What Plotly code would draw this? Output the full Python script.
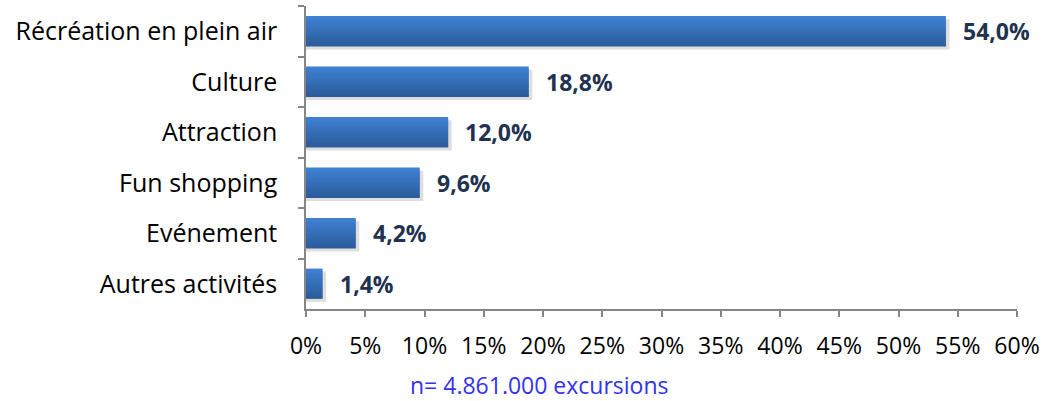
import plotly.graph_objects as go

categories = ["Récréation en plein air", "Culture", "Attraction", "Fun shopping", "Evénement", "Autres activités"]
values = [54.0, 18.8, 12.0, 9.6, 4.2, 1.4]
value_labels = ["54,0%", "18,8%", "12,0%", "9,6%", "4,2%", "1,4%"]
x_ticks = list(range(0, 61, 5))
note = "n= 4.861.000 excursions"

FONT = "Open Sans"
bar_w = 0.6
n_strips = 12
top_col = (62, 128, 210)
bot_col = (44, 92, 155)

fig = go.Figure()

# soft shadow
fig.add_trace(go.Bar(
    y=categories, x=[v + 0.3 for v in values], orientation="h",
    width=bar_w, offset=-bar_w / 2 + 0.06,
    marker=dict(color="rgba(0,0,0,0.13)", line=dict(width=0)),
    hoverinfo="skip", showlegend=False,
))

h = bar_w / n_strips
for i in range(n_strips):
    t = i / (n_strips - 1)
    c = tuple(int(round(top_col[k] + (bot_col[k] - top_col[k]) * t)) for k in range(3))
    w = h + 0.025 if i < n_strips - 1 else h
    fig.add_trace(go.Bar(
        y=categories, x=values, orientation="h",
        width=w, offset=-bar_w / 2 + i * h,
        marker=dict(color="rgb(%d,%d,%d)" % c, line=dict(width=0)),
        hoverinfo="skip", showlegend=False,
    ))

for cat, v, lab in zip(categories, values, value_labels):
    fig.add_annotation(
        x=v, y=cat, text="<b>%s</b>" % lab, showarrow=False,
        xanchor="left", xshift=15,
        font=dict(family=FONT, size=23, color="#1F3350"),
    )

fig.add_annotation(
    x=0.329, xref="paper", y=-0.251, yref="paper", xanchor="center", yanchor="middle",
    text=note, showarrow=False,
    font=dict(family=FONT, size=23, color="#3333EE"),
)

fig.update_layout(
    width=1046, height=401,
    margin=dict(l=306, r=29, t=6, b=92),
    barmode="overlay",
    plot_bgcolor="white", paper_bgcolor="white",
    font=dict(family=FONT, size=21, color="#000000"),
    xaxis=dict(
        range=[0, 60], tickvals=x_ticks, ticktext=["%d%%" % t for t in x_ticks],
        showgrid=False, zeroline=False, showline=True, linecolor="#868686", linewidth=1.5,
        ticks="outside", ticklen=6, tickcolor="#868686", tickwidth=1.5,
        ticklabelstandoff=10, tickfont=dict(size=23),
    ),
    yaxis=dict(
        categoryorder="array", categoryarray=categories, autorange="reversed",
        showgrid=False, zeroline=False, showline=True, linecolor="#868686", linewidth=1.5,
        ticks="outside", ticklen=6, tickcolor="#868686", tickwidth=1.5,
        tickson="boundaries", ticklabelstandoff=22, tickfont=dict(size=25),
    ),
)

fig.write_html("out.html", config={"displayModeBar": False},
               post_script="document.body.style.margin='0';")
